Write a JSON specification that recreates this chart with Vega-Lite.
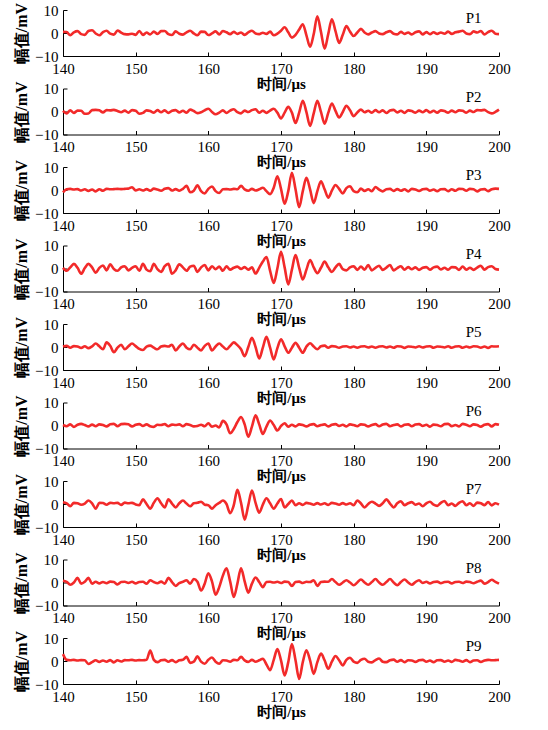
{
"$schema":"https://vega.github.io/schema/vega-lite/v6.json",
"padding":{"left":13,"top":2,"right":10,"bottom":5},
"background":"white",
"config":{"view":{"stroke":null},"axis":{"grid":false,"labelFont":"Liberation Serif","labelFontSize":15,"labelColor":"#000","domainColor":"#000","tickColor":"#000","titleColor":"#000","titleFont":"Liberation Serif","titleFontWeight":"bold","titleFontSize":16,"labelFlush":false,"labelOverlap":false}},
"datasets":{
"P1":[{"t":140,"v":0.5},{"t":140.5,"v":0.4},{"t":141,"v":-1.0},{"t":141.5,"v":0.3},{"t":142,"v":0.8},{"t":142.5,"v":-0.5},{"t":143,"v":-0.8},{"t":143.5,"v":0.9},{"t":144,"v":1.2},{"t":144.5,"v":-0.2},{"t":145,"v":-1.0},{"t":145.5,"v":0.4},{"t":146,"v":1.0},{"t":146.5,"v":-0.3},{"t":147,"v":-0.7},{"t":147.5,"v":1.1},{"t":148,"v":0.2},{"t":148.5,"v":-0.5},{"t":149,"v":-0.6},{"t":149.5,"v":-0.3},{"t":150,"v":-0.8},{"t":150.5,"v":0.9},{"t":151,"v":-0.8},{"t":151.5,"v":0.2},{"t":152,"v":-0.6},{"t":152.5,"v":0.6},{"t":153,"v":-0.4},{"t":153.5,"v":0.8},{"t":154,"v":0.9},{"t":154.5,"v":-0.5},{"t":155,"v":-0.9},{"t":155.5,"v":0.7},{"t":156,"v":-0.3},{"t":156.5,"v":-0.7},{"t":157,"v":0.3},{"t":157.5,"v":1.0},{"t":158,"v":-0.2},{"t":158.5,"v":-1.0},{"t":159,"v":0.6},{"t":159.5,"v":0.5},{"t":160,"v":-0.9},{"t":160.5,"v":-0.2},{"t":161,"v":0.7},{"t":161.5,"v":-0.6},{"t":162,"v":0.9},{"t":162.5,"v":0.3},{"t":163,"v":-0.5},{"t":163.5,"v":0.5},{"t":164,"v":-0.4},{"t":164.5,"v":0.2},{"t":165,"v":-0.8},{"t":165.5,"v":0.3},{"t":166,"v":1.0},{"t":166.5,"v":-0.2},{"t":167,"v":-0.5},{"t":167.5,"v":0.1},{"t":168,"v":-0.4},{"t":168.5,"v":0.6},{"t":169,"v":-1.0},{"t":169.5,"v":-0.3},{"t":170,"v":1.0},{"t":170.5,"v":2.5},{"t":171,"v":0.3},{"t":171.5,"v":-2.0},{"t":172,"v":-0.8},{"t":172.5,"v":1.5},{"t":173,"v":3.8},{"t":173.5,"v":-1.0},{"t":174,"v":-6.0},{"t":174.5,"v":-0.5},{"t":175,"v":7.3},{"t":175.5,"v":0.5},{"t":176,"v":-6.8},{"t":176.5,"v":-0.5},{"t":177,"v":6.0},{"t":177.5,"v":0.8},{"t":178,"v":-4.3},{"t":178.5,"v":-0.8},{"t":179,"v":3.0},{"t":179.5,"v":0.6},{"t":180,"v":-1.3},{"t":180.5,"v":0.2},{"t":181,"v":1.8},{"t":181.5,"v":0.2},{"t":182,"v":-0.6},{"t":182.5,"v":0.2},{"t":183,"v":0.8},{"t":183.5,"v":-0.2},{"t":184,"v":-0.5},{"t":184.5,"v":0.3},{"t":185,"v":0.8},{"t":185.5,"v":-0.3},{"t":186,"v":-0.6},{"t":186.5,"v":0.5},{"t":187,"v":-0.4},{"t":187.5,"v":0.2},{"t":188,"v":-0.6},{"t":188.5,"v":0.3},{"t":189,"v":0.7},{"t":189.5,"v":-0.6},{"t":190,"v":0.4},{"t":190.5,"v":-0.5},{"t":191,"v":0.3},{"t":191.5,"v":-0.4},{"t":192,"v":0.2},{"t":192.5,"v":-0.3},{"t":193,"v":0.6},{"t":193.5,"v":-0.4},{"t":194,"v":0.3},{"t":194.5,"v":0.6},{"t":195,"v":1.0},{"t":195.5,"v":-0.2},{"t":196,"v":-0.5},{"t":196.5,"v":0.7},{"t":197,"v":0.2},{"t":197.5,"v":0.9},{"t":198,"v":-0.6},{"t":198.5,"v":0.4},{"t":199,"v":1.0},{"t":199.5,"v":-0.3},{"t":200,"v":-0.5}],
"P2":[{"t":140,"v":0.3},{"t":140.5,"v":-0.8},{"t":141,"v":0.5},{"t":141.5,"v":-0.6},{"t":142,"v":0.4},{"t":142.5,"v":0.3},{"t":143,"v":-1.0},{"t":143.5,"v":-0.9},{"t":144,"v":0.6},{"t":144.5,"v":0.7},{"t":145,"v":0.5},{"t":145.5,"v":-0.4},{"t":146,"v":0.6},{"t":146.5,"v":0.5},{"t":147,"v":0.7},{"t":147.5,"v":0.2},{"t":148,"v":-0.3},{"t":148.5,"v":0.4},{"t":149,"v":-0.5},{"t":149.5,"v":0.6},{"t":150,"v":0.3},{"t":150.5,"v":-1.0},{"t":151,"v":-0.6},{"t":151.5,"v":0.5},{"t":152,"v":0.2},{"t":152.5,"v":-0.5},{"t":153,"v":0.6},{"t":153.5,"v":-0.3},{"t":154,"v":0.5},{"t":154.5,"v":-0.6},{"t":155,"v":0.3},{"t":155.5,"v":0.6},{"t":156,"v":-0.4},{"t":156.5,"v":0.3},{"t":157,"v":-0.5},{"t":157.5,"v":0.8},{"t":158,"v":0.2},{"t":158.5,"v":-0.7},{"t":159,"v":-0.3},{"t":159.5,"v":0.5},{"t":160,"v":1.2},{"t":160.5,"v":-0.2},{"t":161,"v":-1.2},{"t":161.5,"v":-0.5},{"t":162,"v":0.5},{"t":162.5,"v":-0.6},{"t":163,"v":0.4},{"t":163.5,"v":1.0},{"t":164,"v":-0.3},{"t":164.5,"v":-0.8},{"t":165,"v":0.4},{"t":165.5,"v":-0.2},{"t":166,"v":0.6},{"t":166.5,"v":1.0},{"t":167,"v":-0.5},{"t":167.5,"v":0.3},{"t":168,"v":-0.6},{"t":168.5,"v":0.4},{"t":169,"v":1.2},{"t":169.5,"v":-0.5},{"t":170,"v":-3.0},{"t":170.5,"v":-0.5},{"t":171,"v":2.0},{"t":171.5,"v":-0.5},{"t":172,"v":-5.0},{"t":172.5,"v":-0.5},{"t":173,"v":4.7},{"t":173.5,"v":-0.3},{"t":174,"v":-6.3},{"t":174.5,"v":-0.8},{"t":175,"v":4.7},{"t":175.5,"v":-0.2},{"t":176,"v":-5.3},{"t":176.5,"v":-0.6},{"t":177,"v":3.5},{"t":177.5,"v":0.3},{"t":178,"v":-2.6},{"t":178.5,"v":-0.2},{"t":179,"v":2.5},{"t":179.5,"v":0.5},{"t":180,"v":-2.0},{"t":180.5,"v":-0.4},{"t":181,"v":0.8},{"t":181.5,"v":-0.3},{"t":182,"v":0.3},{"t":182.5,"v":-0.5},{"t":183,"v":0.6},{"t":183.5,"v":-0.3},{"t":184,"v":0.5},{"t":184.5,"v":-0.6},{"t":185,"v":0.4},{"t":185.5,"v":0.7},{"t":186,"v":-0.4},{"t":186.5,"v":0.3},{"t":187,"v":-0.6},{"t":187.5,"v":0.5},{"t":188,"v":0.2},{"t":188.5,"v":-0.5},{"t":189,"v":0.4},{"t":189.5,"v":-0.3},{"t":190,"v":0.6},{"t":190.5,"v":-0.4},{"t":191,"v":0.3},{"t":191.5,"v":-0.5},{"t":192,"v":0.5},{"t":192.5,"v":0.2},{"t":193,"v":-0.5},{"t":193.5,"v":0.4},{"t":194,"v":-0.3},{"t":194.5,"v":0.5},{"t":195,"v":0.3},{"t":195.5,"v":-0.5},{"t":196,"v":0.4},{"t":196.5,"v":-0.2},{"t":197,"v":0.6},{"t":197.5,"v":0.5},{"t":198,"v":0.7},{"t":198.5,"v":-0.3},{"t":199,"v":-0.8},{"t":199.5,"v":-0.2},{"t":200,"v":0.8}],
"P3":[{"t":140,"v":-1.0},{"t":140.5,"v":0.3},{"t":141,"v":0.5},{"t":141.5,"v":0.2},{"t":142,"v":0.4},{"t":142.5,"v":-0.2},{"t":143,"v":0.3},{"t":143.5,"v":-0.4},{"t":144,"v":0.2},{"t":144.5,"v":-0.6},{"t":145,"v":0.3},{"t":145.5,"v":-0.3},{"t":146,"v":0.5},{"t":146.5,"v":0.3},{"t":147,"v":0.4},{"t":147.5,"v":0.5},{"t":148,"v":0.4},{"t":148.5,"v":0.5},{"t":149,"v":0.6},{"t":149.5,"v":1.2},{"t":150,"v":-0.2},{"t":150.5,"v":0.3},{"t":151,"v":-0.2},{"t":151.5,"v":0.4},{"t":152,"v":-0.3},{"t":152.5,"v":0.6},{"t":153,"v":0.2},{"t":153.5,"v":-0.3},{"t":154,"v":0.5},{"t":154.5,"v":0.8},{"t":155,"v":-0.2},{"t":155.5,"v":0.4},{"t":156,"v":-0.3},{"t":156.5,"v":0.5},{"t":157,"v":1.8},{"t":157.5,"v":-1.0},{"t":158,"v":-0.3},{"t":158.5,"v":2.0},{"t":159,"v":-0.5},{"t":159.5,"v":-1.5},{"t":160,"v":0.5},{"t":160.5,"v":1.5},{"t":161,"v":-0.5},{"t":161.5,"v":-1.3},{"t":162,"v":0.3},{"t":162.5,"v":0.4},{"t":163,"v":0.2},{"t":163.5,"v":0.5},{"t":164,"v":0.3},{"t":164.5,"v":1.8},{"t":165,"v":0.3},{"t":165.5,"v":-0.3},{"t":166,"v":0.5},{"t":166.5,"v":-0.2},{"t":167,"v":0.3},{"t":167.5,"v":1.0},{"t":168,"v":-0.5},{"t":168.5,"v":-1.8},{"t":169,"v":1.0},{"t":169.5,"v":6.0},{"t":170,"v":0.5},{"t":170.5,"v":-6.0},{"t":171,"v":-0.5},{"t":171.5,"v":7.5},{"t":172,"v":0.3},{"t":172.5,"v":-7.5},{"t":173,"v":-0.5},{"t":173.5,"v":5.3},{"t":174,"v":0.3},{"t":174.5,"v":-5.7},{"t":175,"v":-0.5},{"t":175.5,"v":3.8},{"t":176,"v":0.3},{"t":176.5,"v":-3.3},{"t":177,"v":-0.3},{"t":177.5,"v":2.2},{"t":178,"v":0.5},{"t":178.5,"v":-1.5},{"t":179,"v":0.8},{"t":179.5,"v":1.6},{"t":180,"v":-0.5},{"t":180.5,"v":-1.0},{"t":181,"v":0.6},{"t":181.5,"v":-0.4},{"t":182,"v":0.3},{"t":182.5,"v":-0.5},{"t":183,"v":1.3},{"t":183.5,"v":0.2},{"t":184,"v":-0.6},{"t":184.5,"v":0.3},{"t":185,"v":0.5},{"t":185.5,"v":-0.4},{"t":186,"v":0.4},{"t":186.5,"v":-0.3},{"t":187,"v":0.3},{"t":187.5,"v":-0.6},{"t":188,"v":0.5},{"t":188.5,"v":0.2},{"t":189,"v":-0.4},{"t":189.5,"v":0.3},{"t":190,"v":0.5},{"t":190.5,"v":-0.3},{"t":191,"v":0.2},{"t":191.5,"v":-0.5},{"t":192,"v":0.3},{"t":192.5,"v":0.4},{"t":193,"v":-0.5},{"t":193.5,"v":0.3},{"t":194,"v":-0.3},{"t":194.5,"v":0.5},{"t":195,"v":0.4},{"t":195.5,"v":-0.3},{"t":196,"v":0.5},{"t":196.5,"v":0.3},{"t":197,"v":-0.6},{"t":197.5,"v":0.2},{"t":198,"v":0.4},{"t":198.5,"v":-0.5},{"t":199,"v":0.3},{"t":199.5,"v":0.6},{"t":200,"v":0.5}],
"P4":[{"t":140,"v":0.3},{"t":140.5,"v":-1.0},{"t":141,"v":0.5},{"t":141.5,"v":2.0},{"t":142,"v":0.3},{"t":142.5,"v":-2.3},{"t":143,"v":0.2},{"t":143.5,"v":2.0},{"t":144,"v":0.5},{"t":144.5,"v":-1.8},{"t":145,"v":0.3},{"t":145.5,"v":1.3},{"t":146,"v":-0.8},{"t":146.5,"v":1.8},{"t":147,"v":-0.2},{"t":147.5,"v":-1.0},{"t":148,"v":0.5},{"t":148.5,"v":1.0},{"t":149,"v":-0.8},{"t":149.5,"v":0.3},{"t":150,"v":1.0},{"t":150.5,"v":-1.0},{"t":151,"v":2.0},{"t":151.5,"v":-0.5},{"t":152,"v":-1.2},{"t":152.5,"v":2.0},{"t":153,"v":-0.3},{"t":153.5,"v":-1.5},{"t":154,"v":1.0},{"t":154.5,"v":2.0},{"t":155,"v":-2.3},{"t":155.5,"v":-0.8},{"t":156,"v":1.8},{"t":156.5,"v":0.5},{"t":157,"v":-1.0},{"t":157.5,"v":0.8},{"t":158,"v":1.2},{"t":158.5,"v":-1.5},{"t":159,"v":0.5},{"t":159.5,"v":1.5},{"t":160,"v":-0.8},{"t":160.5,"v":1.0},{"t":161,"v":-0.3},{"t":161.5,"v":0.8},{"t":162,"v":-1.0},{"t":162.5,"v":1.0},{"t":163,"v":-0.5},{"t":163.5,"v":0.3},{"t":164,"v":0.8},{"t":164.5,"v":-0.2},{"t":165,"v":0.6},{"t":165.5,"v":-0.5},{"t":166,"v":0.5},{"t":166.5,"v":-2.2},{"t":167,"v":0.3},{"t":167.5,"v":3.0},{"t":168,"v":5.0},{"t":168.5,"v":-1.0},{"t":169,"v":-6.3},{"t":169.5,"v":0.0},{"t":170,"v":7.3},{"t":170.5,"v":0.5},{"t":171,"v":-6.9},{"t":171.5,"v":-0.5},{"t":172,"v":5.9},{"t":172.5,"v":0.3},{"t":173,"v":-4.8},{"t":173.5,"v":-0.5},{"t":174,"v":3.7},{"t":174.5,"v":0.5},{"t":175,"v":-2.0},{"t":175.5,"v":0.3},{"t":176,"v":3.0},{"t":176.5,"v":0.5},{"t":177,"v":-1.5},{"t":177.5,"v":0.5},{"t":178,"v":2.0},{"t":178.5,"v":-0.3},{"t":179,"v":-0.8},{"t":179.5,"v":0.5},{"t":180,"v":1.0},{"t":180.5,"v":-0.6},{"t":181,"v":0.8},{"t":181.5,"v":-0.5},{"t":182,"v":1.5},{"t":182.5,"v":-0.8},{"t":183,"v":0.3},{"t":183.5,"v":1.2},{"t":184,"v":-0.6},{"t":184.5,"v":0.4},{"t":185,"v":1.5},{"t":185.5,"v":-0.8},{"t":186,"v":0.2},{"t":186.5,"v":1.0},{"t":187,"v":-0.5},{"t":187.5,"v":0.6},{"t":188,"v":-0.3},{"t":188.5,"v":0.5},{"t":189,"v":-0.6},{"t":189.5,"v":0.3},{"t":190,"v":0.6},{"t":190.5,"v":-0.5},{"t":191,"v":0.5},{"t":191.5,"v":0.8},{"t":192,"v":-0.4},{"t":192.5,"v":0.3},{"t":193,"v":-0.5},{"t":193.5,"v":0.6},{"t":194,"v":0.5},{"t":194.5,"v":-0.6},{"t":195,"v":0.8},{"t":195.5,"v":-0.5},{"t":196,"v":0.3},{"t":196.5,"v":-0.6},{"t":197,"v":0.4},{"t":197.5,"v":1.2},{"t":198,"v":-0.5},{"t":198.5,"v":0.6},{"t":199,"v":1.0},{"t":199.5,"v":-0.2},{"t":200,"v":-0.5}],
"P5":[{"t":140,"v":0.2},{"t":140.5,"v":0.5},{"t":141,"v":-0.3},{"t":141.5,"v":0.4},{"t":142,"v":0.2},{"t":142.5,"v":-0.4},{"t":143,"v":0.3},{"t":143.5,"v":-0.5},{"t":144,"v":0.3},{"t":144.5,"v":1.5},{"t":145,"v":0.3},{"t":145.5,"v":-1.0},{"t":146,"v":2.0},{"t":146.5,"v":0.5},{"t":147,"v":-2.3},{"t":147.5,"v":-0.3},{"t":148,"v":1.0},{"t":148.5,"v":-1.0},{"t":149,"v":0.3},{"t":149.5,"v":1.5},{"t":150,"v":0.4},{"t":150.5,"v":-0.8},{"t":151,"v":-1.3},{"t":151.5,"v":0.2},{"t":152,"v":0.6},{"t":152.5,"v":-0.3},{"t":153,"v":-1.0},{"t":153.5,"v":0.2},{"t":154,"v":0.5},{"t":154.5,"v":0.2},{"t":155,"v":1.0},{"t":155.5,"v":-1.5},{"t":156,"v":0.2},{"t":156.5,"v":1.5},{"t":157,"v":-0.3},{"t":157.5,"v":-1.0},{"t":158,"v":1.0},{"t":158.5,"v":-0.3},{"t":159,"v":-1.5},{"t":159.5,"v":0.5},{"t":160,"v":1.5},{"t":160.5,"v":-1.5},{"t":161,"v":0.2},{"t":161.5,"v":1.5},{"t":162,"v":0.2},{"t":162.5,"v":-1.0},{"t":163,"v":0.5},{"t":163.5,"v":2.0},{"t":164,"v":0.8},{"t":164.5,"v":-1.0},{"t":165,"v":-4.0},{"t":165.5,"v":0.0},{"t":166,"v":4.0},{"t":166.5,"v":0.0},{"t":167,"v":-5.0},{"t":167.5,"v":-0.3},{"t":168,"v":4.4},{"t":168.5,"v":-0.3},{"t":169,"v":-5.4},{"t":169.5,"v":-0.5},{"t":170,"v":3.4},{"t":170.5,"v":0.3},{"t":171,"v":-2.5},{"t":171.5,"v":-0.3},{"t":172,"v":1.8},{"t":172.5,"v":-0.3},{"t":173,"v":-2.5},{"t":173.5,"v":0.2},{"t":174,"v":1.6},{"t":174.5,"v":0.2},{"t":175,"v":-1.0},{"t":175.5,"v":0.3},{"t":176,"v":0.6},{"t":176.5,"v":-0.3},{"t":177,"v":0.4},{"t":177.5,"v":0.2},{"t":178,"v":-0.3},{"t":178.5,"v":0.2},{"t":179,"v":0.3},{"t":179.5,"v":-0.2},{"t":180,"v":0.2},{"t":180.5,"v":-0.3},{"t":181,"v":0.2},{"t":181.5,"v":0.3},{"t":182,"v":-0.2},{"t":182.5,"v":0.2},{"t":183,"v":-0.3},{"t":183.5,"v":0.2},{"t":184,"v":0.3},{"t":184.5,"v":-0.2},{"t":185,"v":0.2},{"t":185.5,"v":-0.3},{"t":186,"v":0.3},{"t":186.5,"v":0.2},{"t":187,"v":-0.4},{"t":187.5,"v":0.2},{"t":188,"v":0.1},{"t":188.5,"v":-0.2},{"t":189,"v":0.3},{"t":189.5,"v":-0.2},{"t":190,"v":0.2},{"t":190.5,"v":0.3},{"t":191,"v":-0.3},{"t":191.5,"v":0.2},{"t":192,"v":0.1},{"t":192.5,"v":-0.2},{"t":193,"v":0.3},{"t":193.5,"v":-0.3},{"t":194,"v":0.2},{"t":194.5,"v":0.3},{"t":195,"v":-0.3},{"t":195.5,"v":0.2},{"t":196,"v":-0.2},{"t":196.5,"v":0.3},{"t":197,"v":0.2},{"t":197.5,"v":-0.3},{"t":198,"v":0.2},{"t":198.5,"v":-0.4},{"t":199,"v":0.3},{"t":199.5,"v":0.2},{"t":200,"v":0.3}],
"P6":[{"t":140,"v":0.2},{"t":140.5,"v":-0.3},{"t":141,"v":0.5},{"t":141.5,"v":-0.6},{"t":142,"v":0.3},{"t":142.5,"v":0.7},{"t":143,"v":0.2},{"t":143.5,"v":-0.4},{"t":144,"v":0.4},{"t":144.5,"v":-0.3},{"t":145,"v":0.5},{"t":145.5,"v":0.2},{"t":146,"v":-0.4},{"t":146.5,"v":0.5},{"t":147,"v":0.7},{"t":147.5,"v":-0.3},{"t":148,"v":0.6},{"t":148.5,"v":0.7},{"t":149,"v":0.5},{"t":149.5,"v":-0.4},{"t":150,"v":0.3},{"t":150.5,"v":0.6},{"t":151,"v":-0.2},{"t":151.5,"v":0.5},{"t":152,"v":-0.3},{"t":152.5,"v":-0.6},{"t":153,"v":0.3},{"t":153.5,"v":0.2},{"t":154,"v":0.6},{"t":154.5,"v":-0.3},{"t":155,"v":0.4},{"t":155.5,"v":0.2},{"t":156,"v":0.5},{"t":156.5,"v":-0.3},{"t":157,"v":0.6},{"t":157.5,"v":0.2},{"t":158,"v":-0.4},{"t":158.5,"v":-0.2},{"t":159,"v":0.3},{"t":159.5,"v":-0.3},{"t":160,"v":1.0},{"t":160.5,"v":-0.5},{"t":161,"v":0.0},{"t":161.5,"v":-0.8},{"t":162,"v":2.0},{"t":162.5,"v":0.5},{"t":163,"v":-3.4},{"t":163.5,"v":-1.5},{"t":164,"v":1.5},{"t":164.5,"v":3.7},{"t":165,"v":0.5},{"t":165.5,"v":-4.9},{"t":166,"v":-0.5},{"t":166.5,"v":4.4},{"t":167,"v":0.5},{"t":167.5,"v":-3.7},{"t":168,"v":-0.5},{"t":168.5,"v":2.2},{"t":169,"v":0.2},{"t":169.5,"v":-2.2},{"t":170,"v":-0.2},{"t":170.5,"v":1.0},{"t":171,"v":-0.5},{"t":171.5,"v":0.3},{"t":172,"v":-0.4},{"t":172.5,"v":0.5},{"t":173,"v":0.2},{"t":173.5,"v":-0.4},{"t":174,"v":0.3},{"t":174.5,"v":0.6},{"t":175,"v":-0.3},{"t":175.5,"v":0.2},{"t":176,"v":0.5},{"t":176.5,"v":-0.4},{"t":177,"v":0.3},{"t":177.5,"v":0.6},{"t":178,"v":-0.2},{"t":178.5,"v":0.3},{"t":179,"v":-0.4},{"t":179.5,"v":0.5},{"t":180,"v":0.2},{"t":180.5,"v":-0.3},{"t":181,"v":0.5},{"t":181.5,"v":0.3},{"t":182,"v":-0.4},{"t":182.5,"v":0.2},{"t":183,"v":0.6},{"t":183.5,"v":-0.3},{"t":184,"v":0.4},{"t":184.5,"v":0.7},{"t":185,"v":-0.3},{"t":185.5,"v":0.2},{"t":186,"v":0.5},{"t":186.5,"v":-0.4},{"t":187,"v":0.3},{"t":187.5,"v":0.5},{"t":188,"v":-0.3},{"t":188.5,"v":0.4},{"t":189,"v":0.6},{"t":189.5,"v":-0.2},{"t":190,"v":0.3},{"t":190.5,"v":-0.5},{"t":191,"v":0.4},{"t":191.5,"v":0.2},{"t":192,"v":-0.3},{"t":192.5,"v":0.6},{"t":193,"v":0.7},{"t":193.5,"v":-0.3},{"t":194,"v":0.2},{"t":194.5,"v":-0.4},{"t":195,"v":0.7},{"t":195.5,"v":0.3},{"t":196,"v":-0.3},{"t":196.5,"v":0.5},{"t":197,"v":0.2},{"t":197.5,"v":-0.5},{"t":198,"v":0.3},{"t":198.5,"v":0.6},{"t":199,"v":-0.4},{"t":199.5,"v":0.6},{"t":200,"v":0.3}],
"P7":[{"t":140,"v":0.8},{"t":140.5,"v":0.3},{"t":141,"v":-1.0},{"t":141.5,"v":0.5},{"t":142,"v":0.3},{"t":142.5,"v":-0.3},{"t":143,"v":0.2},{"t":143.5,"v":1.5},{"t":144,"v":0.3},{"t":144.5,"v":-2.0},{"t":145,"v":0.5},{"t":145.5,"v":0.4},{"t":146,"v":-0.3},{"t":146.5,"v":0.5},{"t":147,"v":0.3},{"t":147.5,"v":0.5},{"t":148,"v":-0.4},{"t":148.5,"v":0.6},{"t":149,"v":0.3},{"t":149.5,"v":0.5},{"t":150,"v":-0.2},{"t":150.5,"v":-0.5},{"t":151,"v":2.0},{"t":151.5,"v":0.0},{"t":152,"v":-2.0},{"t":152.5,"v":0.5},{"t":153,"v":2.5},{"t":153.5,"v":0.3},{"t":154,"v":-1.5},{"t":154.5,"v":2.0},{"t":155,"v":0.2},{"t":155.5,"v":-1.5},{"t":156,"v":0.3},{"t":156.5,"v":1.5},{"t":157,"v":0.2},{"t":157.5,"v":-1.0},{"t":158,"v":0.3},{"t":158.5,"v":0.5},{"t":159,"v":1.0},{"t":159.5,"v":-0.3},{"t":160,"v":-0.5},{"t":160.5,"v":-2.0},{"t":161,"v":-0.5},{"t":161.5,"v":0.5},{"t":162,"v":1.5},{"t":162.5,"v":0.0},{"t":163,"v":-4.0},{"t":163.5,"v":-0.5},{"t":164,"v":6.2},{"t":164.5,"v":0.5},{"t":165,"v":-6.8},{"t":165.5,"v":-0.5},{"t":166,"v":5.9},{"t":166.5,"v":0.5},{"t":167,"v":-3.8},{"t":167.5,"v":-0.3},{"t":168,"v":2.5},{"t":168.5,"v":0.3},{"t":169,"v":-2.0},{"t":169.5,"v":0.2},{"t":170,"v":2.2},{"t":170.5,"v":-1.5},{"t":171,"v":0.0},{"t":171.5,"v":1.5},{"t":172,"v":-0.5},{"t":172.5,"v":0.3},{"t":173,"v":-0.4},{"t":173.5,"v":0.5},{"t":174,"v":0.2},{"t":174.5,"v":-0.3},{"t":175,"v":0.4},{"t":175.5,"v":-0.2},{"t":176,"v":0.3},{"t":176.5,"v":-0.4},{"t":177,"v":0.5},{"t":177.5,"v":0.2},{"t":178,"v":-0.3},{"t":178.5,"v":0.4},{"t":179,"v":-0.2},{"t":179.5,"v":0.3},{"t":180,"v":-0.5},{"t":180.5,"v":1.5},{"t":181,"v":0.2},{"t":181.5,"v":-1.5},{"t":182,"v":0.0},{"t":182.5,"v":1.0},{"t":183,"v":0.2},{"t":183.5,"v":-0.8},{"t":184,"v":0.3},{"t":184.5,"v":2.0},{"t":185,"v":0.2},{"t":185.5,"v":-1.5},{"t":186,"v":0.3},{"t":186.5,"v":1.2},{"t":187,"v":-0.5},{"t":187.5,"v":0.3},{"t":188,"v":0.8},{"t":188.5,"v":-0.3},{"t":189,"v":0.2},{"t":189.5,"v":-1.0},{"t":190,"v":0.3},{"t":190.5,"v":1.0},{"t":191,"v":-0.3},{"t":191.5,"v":-0.8},{"t":192,"v":0.5},{"t":192.5,"v":1.3},{"t":193,"v":-0.5},{"t":193.5,"v":0.2},{"t":194,"v":-0.8},{"t":194.5,"v":0.5},{"t":195,"v":1.2},{"t":195.5,"v":-0.5},{"t":196,"v":0.3},{"t":196.5,"v":-0.8},{"t":197,"v":0.6},{"t":197.5,"v":0.3},{"t":198,"v":-0.5},{"t":198.5,"v":0.8},{"t":199,"v":-0.6},{"t":199.5,"v":0.3},{"t":200,"v":-0.3}],
"P8":[{"t":140,"v":0.8},{"t":140.5,"v":0.3},{"t":141,"v":-1.0},{"t":141.5,"v":0.0},{"t":142,"v":2.0},{"t":142.5,"v":-0.5},{"t":143,"v":0.3},{"t":143.5,"v":2.0},{"t":144,"v":-0.5},{"t":144.5,"v":0.3},{"t":145,"v":-0.4},{"t":145.5,"v":0.2},{"t":146,"v":-0.3},{"t":146.5,"v":0.4},{"t":147,"v":0.2},{"t":147.5,"v":-0.8},{"t":148,"v":0.2},{"t":148.5,"v":0.3},{"t":149,"v":-0.2},{"t":149.5,"v":0.3},{"t":150,"v":-0.4},{"t":150.5,"v":0.2},{"t":151,"v":0.3},{"t":151.5,"v":-0.5},{"t":152,"v":1.0},{"t":152.5,"v":0.2},{"t":153,"v":-0.3},{"t":153.5,"v":0.4},{"t":154,"v":-0.5},{"t":154.5,"v":2.0},{"t":155,"v":0.2},{"t":155.5,"v":-1.5},{"t":156,"v":-0.3},{"t":156.5,"v":0.3},{"t":157,"v":1.0},{"t":157.5,"v":-0.5},{"t":158,"v":1.5},{"t":158.5,"v":0.3},{"t":159,"v":-3.5},{"t":159.5,"v":-0.5},{"t":160,"v":4.0},{"t":160.5,"v":0.5},{"t":161,"v":-5.3},{"t":161.5,"v":-2.0},{"t":162,"v":3.0},{"t":162.5,"v":6.2},{"t":163,"v":0.5},{"t":163.5,"v":-6.3},{"t":164,"v":-0.5},{"t":164.5,"v":6.2},{"t":165,"v":0.5},{"t":165.5,"v":-4.4},{"t":166,"v":-0.5},{"t":166.5,"v":2.2},{"t":167,"v":0.2},{"t":167.5,"v":-2.0},{"t":168,"v":0.2},{"t":168.5,"v":0.3},{"t":169,"v":0.0},{"t":169.5,"v":0.3},{"t":170,"v":-0.2},{"t":170.5,"v":0.4},{"t":171,"v":0.2},{"t":171.5,"v":-1.5},{"t":172,"v":0.2},{"t":172.5,"v":0.4},{"t":173,"v":-0.2},{"t":173.5,"v":0.3},{"t":174,"v":0.2},{"t":174.5,"v":1.0},{"t":175,"v":-1.5},{"t":175.5,"v":0.2},{"t":176,"v":0.4},{"t":176.5,"v":0.3},{"t":177,"v":1.5},{"t":177.5,"v":0.2},{"t":178,"v":-1.0},{"t":178.5,"v":0.0},{"t":179,"v":1.0},{"t":179.5,"v":0.0},{"t":180,"v":-1.2},{"t":180.5,"v":0.0},{"t":181,"v":1.3},{"t":181.5,"v":0.0},{"t":182,"v":-1.0},{"t":182.5,"v":0.2},{"t":183,"v":1.5},{"t":183.5,"v":0.0},{"t":184,"v":-1.0},{"t":184.5,"v":0.2},{"t":185,"v":1.5},{"t":185.5,"v":0.0},{"t":186,"v":-1.2},{"t":186.5,"v":0.2},{"t":187,"v":1.3},{"t":187.5,"v":0.0},{"t":188,"v":-1.0},{"t":188.5,"v":0.2},{"t":189,"v":1.0},{"t":189.5,"v":-0.2},{"t":190,"v":0.3},{"t":190.5,"v":-0.4},{"t":191,"v":0.2},{"t":191.5,"v":0.4},{"t":192,"v":-0.3},{"t":192.5,"v":0.2},{"t":193,"v":0.3},{"t":193.5,"v":-0.4},{"t":194,"v":0.2},{"t":194.5,"v":0.3},{"t":195,"v":-0.2},{"t":195.5,"v":0.4},{"t":196,"v":0.2},{"t":196.5,"v":-0.3},{"t":197,"v":0.3},{"t":197.5,"v":0.8},{"t":198,"v":-0.5},{"t":198.5,"v":0.2},{"t":199,"v":1.2},{"t":199.5,"v":0.3},{"t":200,"v":-0.5}],
"P9":[{"t":140,"v":3.0},{"t":140.5,"v":0.5},{"t":141,"v":0.3},{"t":141.5,"v":0.5},{"t":142,"v":0.2},{"t":142.5,"v":0.4},{"t":143,"v":0.3},{"t":143.5,"v":-1.3},{"t":144,"v":-0.5},{"t":144.5,"v":0.3},{"t":145,"v":-0.4},{"t":145.5,"v":0.2},{"t":146,"v":-0.3},{"t":146.5,"v":0.4},{"t":147,"v":-0.6},{"t":147.5,"v":0.3},{"t":148,"v":-0.2},{"t":148.5,"v":0.4},{"t":149,"v":0.3},{"t":149.5,"v":0.5},{"t":150,"v":0.2},{"t":150.5,"v":0.4},{"t":151,"v":0.3},{"t":151.5,"v":0.5},{"t":152,"v":4.5},{"t":152.5,"v":0.5},{"t":153,"v":-0.5},{"t":153.5,"v":0.3},{"t":154,"v":0.5},{"t":154.5,"v":-0.3},{"t":155,"v":0.4},{"t":155.5,"v":-0.5},{"t":156,"v":0.3},{"t":156.5,"v":0.5},{"t":157,"v":1.8},{"t":157.5,"v":-0.8},{"t":158,"v":-0.3},{"t":158.5,"v":2.0},{"t":159,"v":-0.3},{"t":159.5,"v":-1.2},{"t":160,"v":0.5},{"t":160.5,"v":1.5},{"t":161,"v":-0.3},{"t":161.5,"v":-1.2},{"t":162,"v":0.3},{"t":162.5,"v":0.2},{"t":163,"v":-0.3},{"t":163.5,"v":0.5},{"t":164,"v":0.3},{"t":164.5,"v":1.8},{"t":165,"v":0.3},{"t":165.5,"v":-0.4},{"t":166,"v":0.5},{"t":166.5,"v":-0.3},{"t":167,"v":0.3},{"t":167.5,"v":1.0},{"t":168,"v":-1.5},{"t":168.5,"v":-4.0},{"t":169,"v":0.5},{"t":169.5,"v":5.2},{"t":170,"v":0.3},{"t":170.5,"v":-6.3},{"t":171,"v":-0.5},{"t":171.5,"v":7.4},{"t":172,"v":0.3},{"t":172.5,"v":-7.8},{"t":173,"v":-0.5},{"t":173.5,"v":4.7},{"t":174,"v":0.3},{"t":174.5,"v":-5.6},{"t":175,"v":-0.5},{"t":175.5,"v":3.2},{"t":176,"v":0.3},{"t":176.5,"v":-3.4},{"t":177,"v":-0.3},{"t":177.5,"v":2.2},{"t":178,"v":0.3},{"t":178.5,"v":-1.9},{"t":179,"v":0.5},{"t":179.5,"v":1.4},{"t":180,"v":-0.3},{"t":180.5,"v":-0.8},{"t":181,"v":0.5},{"t":181.5,"v":1.0},{"t":182,"v":-0.3},{"t":182.5,"v":-0.6},{"t":183,"v":0.4},{"t":183.5,"v":1.1},{"t":184,"v":-0.3},{"t":184.5,"v":-0.5},{"t":185,"v":0.3},{"t":185.5,"v":0.6},{"t":186,"v":-0.3},{"t":186.5,"v":0.4},{"t":187,"v":-0.5},{"t":187.5,"v":0.3},{"t":188,"v":0.2},{"t":188.5,"v":-0.4},{"t":189,"v":0.3},{"t":189.5,"v":0.5},{"t":190,"v":-0.3},{"t":190.5,"v":0.2},{"t":191,"v":-0.5},{"t":191.5,"v":0.3},{"t":192,"v":0.4},{"t":192.5,"v":-0.3},{"t":193,"v":0.2},{"t":193.5,"v":-0.4},{"t":194,"v":0.5},{"t":194.5,"v":0.2},{"t":195,"v":-0.3},{"t":195.5,"v":0.4},{"t":196,"v":-0.5},{"t":196.5,"v":0.2},{"t":197,"v":0.3},{"t":197.5,"v":-0.4},{"t":198,"v":0.2},{"t":198.5,"v":0.5},{"t":199,"v":0.3},{"t":199.5,"v":0.4},{"t":200,"v":0.5}]
},
"vconcat":[
{"width":436,"height":46,"layer":[{"data":{"name":"P1"},"mark":{"type":"line","color":"#f22a2a","strokeWidth":2.6,"interpolate":"monotone"},"encoding":{"x":{"field":"t","type":"quantitative","scale":{"domain":[140,200],"nice":false,"zero":false},"axis":{"values":[140,150,160,170,180,190,200],"title":"时间/μs","tickSize":-4,"labelPadding":9,"labelOverlap":false,"labelFlush":false,"titlePadding":0,"titleFontSize":15}},"y":{"field":"v","type":"quantitative","scale":{"domain":[-10,10],"nice":false},"axis":{"tickCount":2,"format":"d","title":"幅值/mV","tickSize":-4,"labelPadding":9,"labelOverlap":false,"labelFlush":false,"titlePadding":5}}}},{"data":{"values":[{"n":"P1"}]},"mark":{"type":"text","font":"Liberation Serif","fontSize":15,"color":"#000"},"encoding":{"x":{"datum":196.5},"y":{"datum":6.5},"text":{"field":"n"}}}]},
{"width":436,"height":46,"layer":[{"data":{"name":"P2"},"mark":{"type":"line","color":"#f22a2a","strokeWidth":2.6,"interpolate":"monotone"},"encoding":{"x":{"field":"t","type":"quantitative","scale":{"domain":[140,200],"nice":false,"zero":false},"axis":{"values":[140,150,160,170,180,190,200],"title":"时间/μs","tickSize":-4,"labelPadding":9,"labelOverlap":false,"labelFlush":false,"titlePadding":0,"titleFontSize":15}},"y":{"field":"v","type":"quantitative","scale":{"domain":[-10,10],"nice":false},"axis":{"tickCount":2,"format":"d","title":"幅值/mV","tickSize":-4,"labelPadding":9,"labelOverlap":false,"labelFlush":false,"titlePadding":5}}}},{"data":{"values":[{"n":"P2"}]},"mark":{"type":"text","font":"Liberation Serif","fontSize":15,"color":"#000"},"encoding":{"x":{"datum":196.5},"y":{"datum":6.5},"text":{"field":"n"}}}]},
{"width":436,"height":46,"layer":[{"data":{"name":"P3"},"mark":{"type":"line","color":"#f22a2a","strokeWidth":2.6,"interpolate":"monotone"},"encoding":{"x":{"field":"t","type":"quantitative","scale":{"domain":[140,200],"nice":false,"zero":false},"axis":{"values":[140,150,160,170,180,190,200],"title":"时间/μs","tickSize":-4,"labelPadding":9,"labelOverlap":false,"labelFlush":false,"titlePadding":0,"titleFontSize":15}},"y":{"field":"v","type":"quantitative","scale":{"domain":[-10,10],"nice":false},"axis":{"tickCount":2,"format":"d","title":"幅值/mV","tickSize":-4,"labelPadding":9,"labelOverlap":false,"labelFlush":false,"titlePadding":5}}}},{"data":{"values":[{"n":"P3"}]},"mark":{"type":"text","font":"Liberation Serif","fontSize":15,"color":"#000"},"encoding":{"x":{"datum":196.5},"y":{"datum":6.5},"text":{"field":"n"}}}]},
{"width":436,"height":46,"layer":[{"data":{"name":"P4"},"mark":{"type":"line","color":"#f22a2a","strokeWidth":2.6,"interpolate":"monotone"},"encoding":{"x":{"field":"t","type":"quantitative","scale":{"domain":[140,200],"nice":false,"zero":false},"axis":{"values":[140,150,160,170,180,190,200],"title":"时间/μs","tickSize":-4,"labelPadding":9,"labelOverlap":false,"labelFlush":false,"titlePadding":0,"titleFontSize":15}},"y":{"field":"v","type":"quantitative","scale":{"domain":[-10,10],"nice":false},"axis":{"tickCount":2,"format":"d","title":"幅值/mV","tickSize":-4,"labelPadding":9,"labelOverlap":false,"labelFlush":false,"titlePadding":5}}}},{"data":{"values":[{"n":"P4"}]},"mark":{"type":"text","font":"Liberation Serif","fontSize":15,"color":"#000"},"encoding":{"x":{"datum":196.5},"y":{"datum":6.5},"text":{"field":"n"}}}]},
{"width":436,"height":46,"layer":[{"data":{"name":"P5"},"mark":{"type":"line","color":"#f22a2a","strokeWidth":2.6,"interpolate":"monotone"},"encoding":{"x":{"field":"t","type":"quantitative","scale":{"domain":[140,200],"nice":false,"zero":false},"axis":{"values":[140,150,160,170,180,190,200],"title":"时间/μs","tickSize":-4,"labelPadding":9,"labelOverlap":false,"labelFlush":false,"titlePadding":0,"titleFontSize":15}},"y":{"field":"v","type":"quantitative","scale":{"domain":[-10,10],"nice":false},"axis":{"tickCount":2,"format":"d","title":"幅值/mV","tickSize":-4,"labelPadding":9,"labelOverlap":false,"labelFlush":false,"titlePadding":5}}}},{"data":{"values":[{"n":"P5"}]},"mark":{"type":"text","font":"Liberation Serif","fontSize":15,"color":"#000"},"encoding":{"x":{"datum":196.5},"y":{"datum":6.5},"text":{"field":"n"}}}]},
{"width":436,"height":46,"layer":[{"data":{"name":"P6"},"mark":{"type":"line","color":"#f22a2a","strokeWidth":2.6,"interpolate":"monotone"},"encoding":{"x":{"field":"t","type":"quantitative","scale":{"domain":[140,200],"nice":false,"zero":false},"axis":{"values":[140,150,160,170,180,190,200],"title":"时间/μs","tickSize":-4,"labelPadding":9,"labelOverlap":false,"labelFlush":false,"titlePadding":0,"titleFontSize":15}},"y":{"field":"v","type":"quantitative","scale":{"domain":[-10,10],"nice":false},"axis":{"tickCount":2,"format":"d","title":"幅值/mV","tickSize":-4,"labelPadding":9,"labelOverlap":false,"labelFlush":false,"titlePadding":5}}}},{"data":{"values":[{"n":"P6"}]},"mark":{"type":"text","font":"Liberation Serif","fontSize":15,"color":"#000"},"encoding":{"x":{"datum":196.5},"y":{"datum":6.5},"text":{"field":"n"}}}]},
{"width":436,"height":46,"layer":[{"data":{"name":"P7"},"mark":{"type":"line","color":"#f22a2a","strokeWidth":2.6,"interpolate":"monotone"},"encoding":{"x":{"field":"t","type":"quantitative","scale":{"domain":[140,200],"nice":false,"zero":false},"axis":{"values":[140,150,160,170,180,190,200],"title":"时间/μs","tickSize":-4,"labelPadding":9,"labelOverlap":false,"labelFlush":false,"titlePadding":0,"titleFontSize":15}},"y":{"field":"v","type":"quantitative","scale":{"domain":[-10,10],"nice":false},"axis":{"tickCount":2,"format":"d","title":"幅值/mV","tickSize":-4,"labelPadding":9,"labelOverlap":false,"labelFlush":false,"titlePadding":5}}}},{"data":{"values":[{"n":"P7"}]},"mark":{"type":"text","font":"Liberation Serif","fontSize":15,"color":"#000"},"encoding":{"x":{"datum":196.5},"y":{"datum":6.5},"text":{"field":"n"}}}]},
{"width":436,"height":46,"layer":[{"data":{"name":"P8"},"mark":{"type":"line","color":"#f22a2a","strokeWidth":2.6,"interpolate":"monotone"},"encoding":{"x":{"field":"t","type":"quantitative","scale":{"domain":[140,200],"nice":false,"zero":false},"axis":{"values":[140,150,160,170,180,190,200],"title":"时间/μs","tickSize":-4,"labelPadding":9,"labelOverlap":false,"labelFlush":false,"titlePadding":0,"titleFontSize":15}},"y":{"field":"v","type":"quantitative","scale":{"domain":[-10,10],"nice":false},"axis":{"tickCount":2,"format":"d","title":"幅值/mV","tickSize":-4,"labelPadding":9,"labelOverlap":false,"labelFlush":false,"titlePadding":5}}}},{"data":{"values":[{"n":"P8"}]},"mark":{"type":"text","font":"Liberation Serif","fontSize":15,"color":"#000"},"encoding":{"x":{"datum":196.5},"y":{"datum":6.5},"text":{"field":"n"}}}]},
{"width":436,"height":46,"layer":[{"data":{"name":"P9"},"mark":{"type":"line","color":"#f22a2a","strokeWidth":2.6,"interpolate":"monotone"},"encoding":{"x":{"field":"t","type":"quantitative","scale":{"domain":[140,200],"nice":false,"zero":false},"axis":{"values":[140,150,160,170,180,190,200],"title":"时间/μs","tickSize":-4,"labelPadding":9,"labelOverlap":false,"labelFlush":false,"titlePadding":0,"titleFontSize":15}},"y":{"field":"v","type":"quantitative","scale":{"domain":[-10,10],"nice":false},"axis":{"tickCount":2,"format":"d","title":"幅值/mV","tickSize":-4,"labelPadding":9,"labelOverlap":false,"labelFlush":false,"titlePadding":5}}}},{"data":{"values":[{"n":"P9"}]},"mark":{"type":"text","font":"Liberation Serif","fontSize":15,"color":"#000"},"encoding":{"x":{"datum":196.5},"y":{"datum":6.5},"text":{"field":"n"}}}]}
],
"spacing":32.5,
"bounds":"flush"
}
